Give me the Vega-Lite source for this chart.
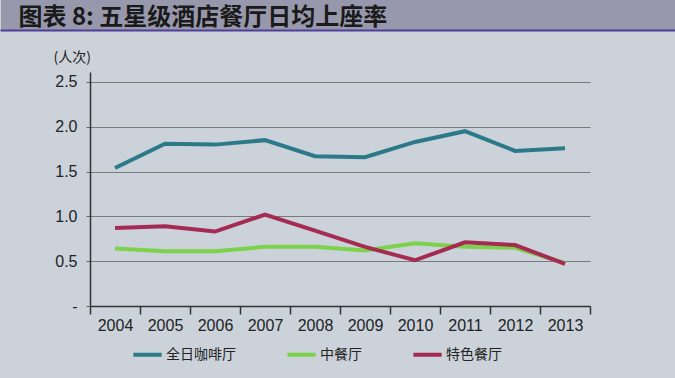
{
  "$schema": "https://vega.github.io/schema/vega-lite/v6.json",
  "background": "#cbd2da",
  "autosize": {"type": "none"},
  "width": 500,
  "height": 234,
  "padding": {"left": 90, "top": 72, "right": 85, "bottom": 72},
  "config": {
    "view": {"stroke": null},
    "font": "Liberation Sans"
  },
  "resolve": {"scale": {"x": "independent"}, "axis": {"x": "independent"}},
  "layer": [
    {
      "data": {
        "values": [
          {"year": "2004", "series": "全日咖啡厅", "value": 1.54},
          {"year": "2005", "series": "全日咖啡厅", "value": 1.81},
          {"year": "2006", "series": "全日咖啡厅", "value": 1.80},
          {"year": "2007", "series": "全日咖啡厅", "value": 1.85},
          {"year": "2008", "series": "全日咖啡厅", "value": 1.67},
          {"year": "2009", "series": "全日咖啡厅", "value": 1.66},
          {"year": "2010", "series": "全日咖啡厅", "value": 1.83},
          {"year": "2011", "series": "全日咖啡厅", "value": 1.95},
          {"year": "2012", "series": "全日咖啡厅", "value": 1.73},
          {"year": "2013", "series": "全日咖啡厅", "value": 1.76},
          {"year": "2004", "series": "中餐厅", "value": 0.64},
          {"year": "2005", "series": "中餐厅", "value": 0.61},
          {"year": "2006", "series": "中餐厅", "value": 0.61},
          {"year": "2007", "series": "中餐厅", "value": 0.66},
          {"year": "2008", "series": "中餐厅", "value": 0.66},
          {"year": "2009", "series": "中餐厅", "value": 0.62},
          {"year": "2010", "series": "中餐厅", "value": 0.70},
          {"year": "2011", "series": "中餐厅", "value": 0.66},
          {"year": "2012", "series": "中餐厅", "value": 0.65},
          {"year": "2013", "series": "中餐厅", "value": 0.48},
          {"year": "2004", "series": "特色餐厅", "value": 0.87},
          {"year": "2005", "series": "特色餐厅", "value": 0.89},
          {"year": "2006", "series": "特色餐厅", "value": 0.83},
          {"year": "2007", "series": "特色餐厅", "value": 1.02},
          {"year": "2008", "series": "特色餐厅", "value": 0.84},
          {"year": "2009", "series": "特色餐厅", "value": 0.66},
          {"year": "2010", "series": "特色餐厅", "value": 0.51},
          {"year": "2011", "series": "特色餐厅", "value": 0.71},
          {"year": "2012", "series": "特色餐厅", "value": 0.68},
          {"year": "2013", "series": "特色餐厅", "value": 0.47}
        ]
      },
      "mark": {"type": "line", "strokeWidth": 4, "strokeCap": "butt"},
      "encoding": {
        "x": {
          "field": "year",
          "type": "ordinal",
          "scale": {"type": "band", "paddingInner": 0, "paddingOuter": 0},
          "axis": {
            "orient": "bottom",
            "title": null,
            "labelAngle": 0,
            "tickBand": "extent",
            "tickSize": 8,
            "tickColor": "#333333",
            "tickWidth": 1.5,
            "domainColor": "#333333",
            "domainWidth": 1.5,
            "labelFontSize": 16,
            "labelColor": "#222222",
            "labelPadding": 3,
            "grid": false
          }
        },
        "y": {
          "field": "value",
          "type": "quantitative",
          "scale": {"domain": [0, 2.61], "nice": false, "zero": true},
          "axis": {
            "values": [0, 0.5, 1, 1.5, 2, 2.5],
            "labelExpr": "datum.value == 0 ? '-' : format(datum.value, '.1f')",
            "title": "(人次)",
            "titleFont": "Noto Sans CJK SC",
            "titleFontSize": 14,
            "titleFontWeight": "normal",
            "titleColor": "#222222",
            "titleAngle": 0,
            "titleAlign": "left",
            "titleBaseline": "middle",
            "titleX": -37,
            "titleY": -15,
            "grid": true,
            "gridColor": "#7a7a7a",
            "gridWidth": 1,
            "domainColor": "#333333",
            "domainWidth": 1.5,
            "tickSize": 4,
            "tickColor": "#666666",
            "labelFontSize": 16,
            "labelColor": "#222222",
            "labelPadding": 9
          }
        },
        "color": {
          "field": "series",
          "type": "nominal",
          "scale": {
            "domain": ["全日咖啡厅", "中餐厅", "特色餐厅"],
            "range": ["#2c7a89", "#7dd24b", "#a52b52"]
          },
          "legend": {
            "title": null,
            "orient": "none",
            "direction": "horizontal",
            "legendX": 41,
            "legendY": 266,
            "symbolType": "stroke",
            "symbolStrokeWidth": 4,
            "symbolSize": 800,
            "labelOffset": 2,
            "columnPadding": 43,
            "labelFont": "Noto Sans CJK SC",
            "labelFontSize": 14,
            "labelColor": "#222222"
          }
        }
      }
    },
    {
      "data": {"values": [{"band": 0.5}]},
      "mark": {"type": "point", "opacity": 0},
      "encoding": {
        "x": {
          "field": "band",
          "type": "quantitative",
          "scale": {"domain": [0, 1], "range": [-90, 585]},
          "axis": {
            "orient": "top",
            "offset": 42,
            "values": [0.5],
            "labels": false,
            "grid": false,
            "ticks": true,
            "tickSize": 31,
            "tickWidth": 675,
            "tickColor": "#9898ad",
            "domain": true,
            "domainColor": "#4f3f98",
            "domainWidth": 2,
            "title": "图表 8: 五星级酒店餐厅日均上座率",
            "titleFont": "Noto Sans CJK SC",
            "titleFontSize": 24,
            "titleFontWeight": "bold",
            "titleColor": "#1a1a1a",
            "titleAngle": 0,
            "titleAlign": "left",
            "titleBaseline": "middle",
            "titleX": -72,
            "titleY": -13
          }
        }
      }
    }
  ]
}
